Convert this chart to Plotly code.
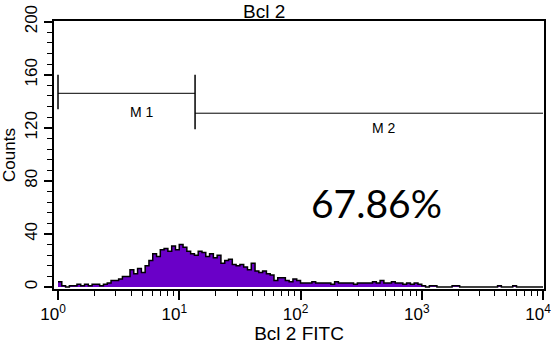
import math
import plotly.graph_objects as go

# ── data ─────────────────────────────────────────────────────────────────────
# counts per channel, 128 log channels spanning 10^0 .. 10^4
N_CHANNELS = 128
counts = [
    4, 1, 0, 1, 1, 2, 1, 2, 1, 2, 2, 1, 2, 3, 5, 5,
    6, 8, 8, 13, 10, 14, 11, 16, 20, 25, 23, 28, 29, 27, 31, 28,
    32, 30, 27, 25, 24, 27, 26, 23, 25, 22, 24, 18, 20, 21, 17, 16,
    17, 15, 13, 18, 12, 11, 12, 10, 9, 5, 7, 7, 5, 4, 6, 5,
    3, 3, 3, 4, 3, 3, 3, 3, 2, 4, 3, 3, 3, 3, 2, 3,
    3, 3, 3, 4, 3, 5, 3, 3, 4, 3, 3, 2, 3, 2, 3, 2,
    1, 0, 1, 1, 0, 0, 0, 0, 1, 1, 0, 0, 0, 0, 0, 0,
    0, 0, 0, 0, 1, 0, 0, 0, 1, 0, 0, 0, 0, 0, 0, 0,
]

# markers: left, right, line level, bar low, bar high, label position
m1 = dict(name="M 1", x0=1.0, x1=13.5, y=146, lo=134, hi=160, lx=4.9, ly=132)
m2 = dict(name="M 2", x0=13.5, x1=10000, y=131, lo=119, hi=160, lx=488, ly=120)
pct_text = "67.86%"
pct_pos = (420, 63)

title = "Bcl 2"
x_title = "Bcl 2 FITC"
y_title = "Counts"

# channel edges on the log scale
edges = [10 ** (4 * i / N_CHANNELS) for i in range(N_CHANNELS + 1)]

FONT = "Liberation Sans, Arial, sans-serif"
C_FILL = "#6a00c8"

fig = go.Figure()

fig.add_trace(go.Scatter(
    x=edges, y=counts + [counts[-1]],
    mode="lines", line_shape="hv",
    line=dict(color="black", width=1.5),
    fill="tozeroy", fillcolor=C_FILL,
    hoverinfo="skip", showlegend=False,
))

# gate markers
for m in (m1, m2):
    fig.add_shape(type="line", x0=m["x0"], x1=m["x1"], y0=m["y"], y1=m["y"],
                  line=dict(color="black", width=1))
    # annotations on a log axis take log10 positions
    fig.add_annotation(x=math.log10(m["lx"]), y=m["ly"], text=m["name"],
                       showarrow=False,
                       font=dict(size=14, color="black", family=FONT))
# end bars of M1 (M2 shares the middle one, its right end sits on the frame)
fig.add_shape(type="line", x0=m1["x0"], x1=m1["x0"], y0=m1["lo"], y1=m1["hi"],
              line=dict(color="black", width=1.5))
fig.add_shape(type="line", x0=m1["x1"], x1=m1["x1"], y0=m2["lo"], y1=m2["hi"],
              line=dict(color="black", width=1.5))

fig.add_annotation(x=math.log10(pct_pos[0]), y=pct_pos[1],
                   text=pct_text, showarrow=False,
                   font=dict(size=39, color="black", family="Lato"))

fig.add_annotation(x=(264 - 54) / 490, y=1 + (21 - 11) / 268,
                   xref="paper", yref="paper", yanchor="middle", text=title,
                   showarrow=False, font=dict(size=19, color="black", family=FONT))

fig.update_layout(
    width=556, height=344,
    margin=dict(l=54, r=12, t=21, b=55),
    paper_bgcolor="white", plot_bgcolor="white",
    font=dict(family=FONT, size=17, color="black"),
    showlegend=False,
)

dec = [1, 10, 100, 1000, 10000]
minor_vals = [d * k for d in dec[:-1] for k in range(2, 10)]
fig.update_xaxes(
    type="log", range=[-0.033, 4.008], automargin=False,
    tickvals=dec, ticktext=[f"10<sup>{i}</sup>" for i in range(5)],
    ticks="outside", ticklen=9, tickwidth=1.5, tickcolor="black",
    ticklabelshift=-5, ticklabeloverflow="allow",
    minor=dict(tickvals=minor_vals, ticks="outside", ticklen=5,
               tickwidth=1, tickcolor="black"),
    showline=True, linecolor="black", linewidth=2, mirror=True,
    showgrid=False, zeroline=False,
    tickfont=dict(size=17),
    title=dict(text=x_title, font=dict(size=19), standoff=2),
)
fig.update_yaxes(
    range=[-1.5, 200.5], automargin=False,
    tickvals=[0, 40, 80, 120, 160, 200],
    ticks="outside", ticklen=8, tickwidth=1.5, tickcolor="black",
    minor=dict(dtick=8, ticks="outside", ticklen=5, tickwidth=1,
               tickcolor="black"),
    tickangle=-90,
    showline=True, linecolor="black", linewidth=2, mirror=True,
    showgrid=False, zeroline=False,
    tickfont=dict(size=17),
    title=dict(text=y_title, font=dict(size=17), standoff=2),
)

# drop the page's default body margin so the figure sits at the corner
fig.write_html("out.html", config={"displayModeBar": False},
               post_script="document.body.style.margin='0';")
